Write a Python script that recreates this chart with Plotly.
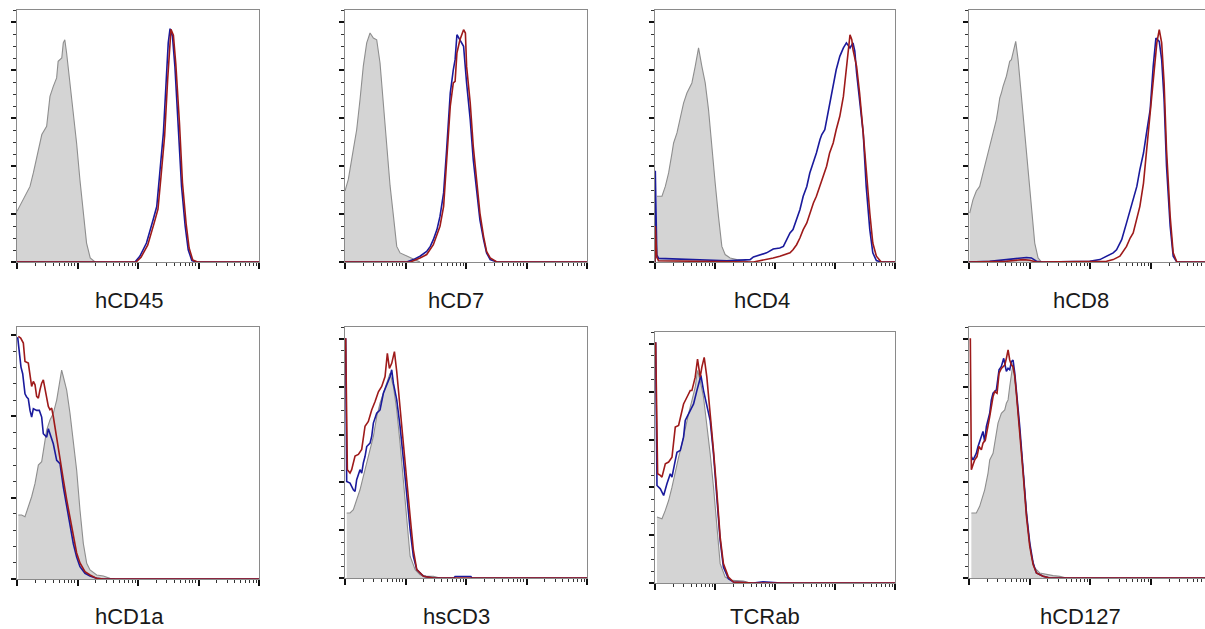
import math
import plotly.graph_objects as go

# ---------------- data (x = decades of fluorescence, y = relative count) ----------------
# hCD45
cd45_iso_x = [0, 0.105, 0.215, 0.27, 0.38, 0.41, 0.49, 0.52, 0.545, 0.60, 0.655, 0.68, 0.74, 0.765, 0.79, 0.82, 0.875, 0.93, 0.985, 1.04, 1.10, 1.15, 1.21, 1.29]
cd45_iso_y = [21.1, 26.0, 31.5, 37.1, 49.6, 53.1, 56.5, 64.9, 69.0, 73.2, 76.7, 83.6, 85.0, 91.3, 92.6, 87.1, 74.6, 62.1, 49.6, 34.3, 20.4, 7.9, 1.7, 0]
cd45_blue_x = [0, 1.95, 2.03, 2.14, 2.25, 2.31, 2.36, 2.42, 2.47, 2.50, 2.53, 2.57, 2.61, 2.67, 2.72, 2.78, 2.83, 2.89, 2.97, 4]
cd45_blue_y = [0, 0, 2.4, 7.9, 17.6, 23.1, 37.1, 53.8, 77.4, 91.3, 97.2, 94.0, 81.5, 56.5, 31.5, 14.9, 5.1, 0.6, 0, 0]
cd45_red_x = [0, 1.97, 2.05, 2.16, 2.27, 2.33, 2.38, 2.44, 2.49, 2.52, 2.545, 2.585, 2.625, 2.685, 2.735, 2.795, 2.845, 2.905, 2.985, 4]
cd45_red_y = [0, 0, 2.0, 7.0, 16.5, 22.0, 35.5, 52.5, 76.0, 90.5, 97.0, 94.5, 82.5, 58.0, 33.0, 16.0, 5.8, 0.8, 0, 0]

# hCD7
cd7_iso_x = [0, 0.055, 0.138, 0.193, 0.248, 0.303, 0.359, 0.414, 0.469, 0.524, 0.579, 0.634, 0.69, 0.745, 0.80, 0.855, 0.91, 1.02, 1.13, 1.24]
cd7_iso_y = [29.6, 34.4, 46.9, 55.1, 67.6, 81.7, 91.3, 95.4, 93.3, 92.6, 82.9, 65.1, 47.1, 31.8, 19.3, 6.5, 3.8, 2.4, 1.25, 0]
cd7_blue_x = [0, 1.02, 1.13, 1.24, 1.35, 1.41, 1.46, 1.52, 1.57, 1.63, 1.68, 1.74, 1.79, 1.82, 1.85, 1.90, 1.96, 2.01, 2.07, 2.12, 2.18, 2.23, 2.29, 2.34, 2.40, 2.51, 4]
cd7_blue_y = [0, 0, 1.0, 2.4, 4.4, 6.5, 9.3, 13.5, 19.0, 28.8, 46.8, 70.4, 80.1, 84.3, 94.7, 92.6, 89.9, 74.6, 59.3, 42.6, 28.8, 17.6, 9.3, 3.8, 1.0, 0, 0]
cd7_red_x = [0, 1.08, 1.24, 1.35, 1.46, 1.57, 1.63, 1.68, 1.74, 1.79, 1.82, 1.85, 1.90, 1.96, 1.99, 2.01, 2.07, 2.12, 2.18, 2.23, 2.29, 2.34, 2.40, 2.51, 4]
cd7_red_y = [0, 0, 1.7, 3.1, 7.2, 14.9, 23.2, 41.3, 64.9, 74.6, 75.3, 87.1, 92.6, 96.8, 95.4, 81.5, 66.2, 48.2, 31.5, 20.4, 10.7, 4.4, 1.7, 0, 0]

# hCD4
cd4_iso_x = [0.033, 0.116, 0.172, 0.227, 0.283, 0.31, 0.366, 0.421, 0.476, 0.532, 0.56, 0.615, 0.67, 0.726, 0.781, 0.837, 0.892, 0.947, 1.003, 1.058, 1.114, 1.169, 1.252, 1.363, 1.474, 1.557]
cd4_iso_y = [27.4, 27.4, 31.5, 37.1, 45.4, 49.6, 53.8, 60.7, 66.2, 70.4, 71.8, 74.6, 81.5, 89.2, 81.5, 74.6, 63.5, 46.8, 32.9, 19.0, 6.5, 3.1, 1.7, 1.0, 0.7, 0]
cd4_blue_x = [0, 0.005, 0.03, 0.06, 1.2, 1.585, 1.64, 1.75, 1.86, 1.97, 2.08, 2.14, 2.19, 2.25, 2.30, 2.36, 2.415, 2.47, 2.53, 2.58, 2.64, 2.69, 2.75, 2.78, 2.83, 2.89, 2.91, 2.97, 3.02, 3.08, 3.14, 3.19, 3.25, 3.30, 3.33, 3.36, 3.41, 3.47, 3.52, 3.58, 3.63, 3.69, 3.77, 4]
cd4_blue_y = [0, 38, 3.0, 1.5, 0.5, 1.0, 2.1, 3.1, 3.8, 5.4, 5.8, 6.5, 9.3, 12.1, 13.5, 17.6, 21.8, 27.4, 31.5, 37.1, 41.3, 45.4, 51.0, 53.1, 55.1, 63.5, 66.2, 73.2, 80.1, 85.7, 89.2, 91.3, 89.2, 91.3, 87.9, 78.8, 67.6, 53.8, 31.5, 13.5, 3.8, 0.6, 0, 0]
cd4_red_x = [0, 0.005, 0.03, 0.06, 1.64, 1.86, 1.97, 2.08, 2.19, 2.25, 2.30, 2.36, 2.415, 2.47, 2.53, 2.58, 2.64, 2.69, 2.75, 2.80, 2.86, 2.91, 2.97, 3.02, 3.08, 3.14, 3.19, 3.25, 3.28, 3.30, 3.36, 3.41, 3.47, 3.52, 3.58, 3.63, 3.69, 3.77, 4]
cd4_red_y = [0, 15, 2.0, 0.5, 0, 1.0, 1.7, 2.4, 3.1, 3.8, 5.1, 7.2, 10.0, 13.5, 16.3, 20.4, 24.6, 27.4, 31.5, 35.7, 39.9, 45.4, 49.6, 55.1, 60.7, 69.0, 81.5, 94.7, 92.6, 88.5, 81.5, 70.4, 53.8, 37.1, 20.4, 7.9, 2.4, 0, 0]

# hCD8
cd8_iso_x = [0.011, 0.066, 0.121, 0.176, 0.231, 0.287, 0.342, 0.369, 0.397, 0.452, 0.479, 0.507, 0.534, 0.562, 0.617, 0.672, 0.70, 0.727, 0.771, 0.81, 0.865, 0.92, 0.975, 1.03, 1.085, 1.14, 1.196]
cd8_iso_y = [20.4, 26.0, 29.6, 31.5, 37.1, 42.6, 48.2, 51.0, 54.4, 59.3, 63.5, 68.3, 70.4, 73.2, 77.4, 83.6, 84.3, 87.1, 91.9, 84.3, 69.0, 53.8, 37.1, 20.4, 7.9, 1.7, 0]
cd8_blue_x = [0, 0.342, 0.617, 0.782, 0.948, 1.03, 1.113, 1.223, 1.72, 1.99, 2.16, 2.27, 2.38, 2.435, 2.52, 2.60, 2.66, 2.71, 2.77, 2.82, 2.88, 2.93, 2.99, 3.04, 3.085, 3.14, 3.18, 3.22, 3.26, 3.32, 3.37, 3.43, 4]
cd8_blue_y = [0, 0.3, 1.0, 1.5, 1.9, 1.7, 0.3, 0, 0, 0.3, 1.0, 2.4, 3.8, 5.1, 9.3, 16.3, 21.8, 26.0, 31.5, 38.5, 45.4, 53.8, 63.5, 81.5, 93.3, 91.9, 84.3, 67.6, 39.9, 15.0, 2.4, 0, 0]
cd8_red_x = [0, 0.617, 0.893, 1.003, 1.113, 2.16, 2.27, 2.38, 2.49, 2.60, 2.66, 2.71, 2.77, 2.82, 2.88, 2.93, 2.99, 3.04, 3.10, 3.14, 3.18, 3.22, 3.26, 3.32, 3.37, 3.43, 4]
cd8_red_y = [0, 0.3, 1.0, 0.7, 0, 0, 0.3, 1.0, 2.4, 6.5, 10.0, 12.1, 17.6, 23.2, 32.9, 46.8, 60.7, 77.4, 91.3, 96.8, 91.3, 74.6, 46.8, 19.0, 3.8, 0, 0]

# hCD1a
cd1a_iso_x = [0.022, 0.077, 0.132, 0.187, 0.242, 0.298, 0.325, 0.353, 0.408, 0.435, 0.49, 0.545, 0.60, 0.656, 0.711, 0.738, 0.766, 0.821, 0.876, 0.931, 0.986, 1.041, 1.096, 1.152, 1.207, 1.317, 1.427, 1.537, 1.62]
cd1a_iso_y = [78.7, 78.7, 76.6, 88.9, 101.2, 117.6, 129.9, 140.2, 144.3, 158.6, 183.2, 195.5, 203.7, 220.1, 248.8, 257.0, 248.8, 232.4, 203.7, 166.8, 134.0, 84.8, 43.9, 19.3, 11.1, 4.9, 3.7, 0.8, 0]
cd1a_blue_x = [0.011, 0.039, 0.066, 0.094, 0.132, 0.16, 0.187, 0.215, 0.242, 0.27, 0.325, 0.369, 0.408, 0.435, 0.463, 0.49, 0.518, 0.545, 0.573, 0.60, 0.656, 0.711, 0.766, 0.821, 0.876, 0.931, 0.986, 1.041, 1.124, 1.207, 1.317, 1.427, 4]
cd1a_blue_y = [297.5, 277.0, 260.7, 252.5, 227.9, 223.8, 221.7, 207.4, 199.2, 209.4, 207.4, 207.4, 199.2, 178.7, 176.6, 174.6, 184.8, 178.7, 170.5, 166.4, 145.9, 141.8, 113.1, 88.5, 63.9, 43.4, 27.0, 15.2, 7.0, 3.7, 0.8, 0, 0]
cd1a_red_x = [0.022, 0.061, 0.105, 0.132, 0.187, 0.215, 0.242, 0.27, 0.298, 0.325, 0.353, 0.38, 0.408, 0.435, 0.463, 0.49, 0.518, 0.545, 0.573, 0.60, 0.656, 0.711, 0.766, 0.821, 0.876, 0.931, 0.986, 1.041, 1.124, 1.207, 1.317, 1.427, 4]
cd1a_red_y = [298.4, 296.3, 290.2, 267.6, 265.6, 253.3, 236.9, 243.0, 238.9, 224.6, 222.5, 232.8, 240.9, 245.0, 232.8, 224.6, 212.3, 208.2, 210.2, 199.9, 175.4, 150.8, 122.1, 97.5, 77.0, 52.5, 32.0, 19.7, 9.0, 4.9, 0.8, 0, 0]

# hsCD3
cd3_iso_x = [0.028, 0.083, 0.138, 0.193, 0.248, 0.303, 0.359, 0.414, 0.469, 0.524, 0.579, 0.634, 0.69, 0.745, 0.80, 0.855, 0.91, 0.966, 1.02, 1.076, 1.16, 1.24, 1.35, 1.46, 1.57]
cd3_iso_y = [27.2, 27.2, 28.6, 32.7, 36.9, 42.5, 48.1, 53.6, 59.2, 67.5, 73.1, 77.3, 81.5, 85.7, 80.1, 70.3, 56.4, 39.7, 23.0, 9.1, 3.5, 1.4, 0.7, 0.7, 0]
cd3_blue_x = [0.011, 0.028, 0.083, 0.138, 0.166, 0.193, 0.248, 0.276, 0.303, 0.331, 0.359, 0.414, 0.441, 0.469, 0.524, 0.579, 0.634, 0.69, 0.745, 0.772, 0.80, 0.855, 0.91, 0.966, 1.02, 1.076, 1.13, 1.186, 1.297, 1.46, 1.80, 1.82, 2.08, 2.10, 4]
cd3_blue_y = [100.3, 40.4, 39.7, 36.9, 36.2, 41.1, 45.3, 43.9, 48.1, 50.8, 55.0, 56.4, 59.2, 64.8, 68.9, 70.3, 77.3, 80.8, 84.3, 87.1, 81.5, 74.5, 63.4, 49.4, 34.1, 20.2, 9.1, 3.5, 0.7, 0, 0, 0.6, 0.6, 0, 0]
cd3_red_x = [0.011, 0.039, 0.083, 0.11, 0.166, 0.221, 0.276, 0.331, 0.386, 0.441, 0.497, 0.552, 0.607, 0.662, 0.70, 0.734, 0.772, 0.817, 0.855, 0.91, 0.966, 1.02, 1.076, 1.13, 1.186, 1.297, 1.46, 4]
cd3_red_y = [100.3, 45.3, 43.9, 45.3, 51.0, 51.7, 53.8, 63.5, 65.5, 70.3, 73.8, 77.9, 80.1, 84.3, 94.0, 87.7, 89.8, 94.7, 86.4, 70.3, 56.4, 41.1, 25.8, 11.8, 3.5, 0.7, 0, 0]

# TCRab
tcr_iso_x = [0.033, 0.116, 0.172, 0.227, 0.283, 0.338, 0.393, 0.449, 0.504, 0.56, 0.615, 0.67, 0.709, 0.753, 0.809, 0.864, 0.92, 0.975, 1.03, 1.086, 1.169, 1.28, 1.474, 1.585]
tcr_iso_y = [27.6, 26.9, 30.4, 34.5, 40.1, 47.1, 52.6, 58.2, 65.2, 70.8, 76.3, 81.9, 88.9, 84.7, 77.7, 66.6, 54.0, 40.1, 23.4, 8.1, 2.5, 1.1, 0.8, 0]
tcr_blue_x = [0.011, 0.033, 0.089, 0.144, 0.199, 0.255, 0.283, 0.31, 0.338, 0.366, 0.421, 0.476, 0.504, 0.532, 0.587, 0.643, 0.698, 0.765, 0.809, 0.864, 0.92, 0.975, 1.03, 1.086, 1.14, 1.224, 1.307, 1.64, 1.80, 2.10, 4]
tcr_blue_y = [100.7, 40.8, 39.4, 36.6, 41.5, 45.7, 44.3, 48.5, 51.3, 54.7, 55.4, 61.0, 68.0, 69.4, 72.1, 74.9, 80.5, 86.8, 80.5, 73.5, 67.9, 54.0, 35.9, 17.8, 6.7, 1.8, 0.4, 0, 0.5, 0, 0]
tcr_red_x = [0.011, 0.044, 0.089, 0.116, 0.172, 0.227, 0.283, 0.338, 0.393, 0.449, 0.476, 0.532, 0.587, 0.615, 0.67, 0.709, 0.753, 0.781, 0.82, 0.864, 0.92, 0.975, 1.03, 1.086, 1.14, 1.224, 1.307, 1.64, 4]
tcr_red_y = [100.7, 45.7, 45.0, 44.3, 49.9, 50.6, 52.6, 65.2, 65.9, 72.1, 74.9, 77.7, 80.5, 80.5, 86.1, 93.7, 86.1, 90.3, 94.4, 86.1, 72.1, 55.4, 38.4, 19.2, 8.1, 2.5, 0.4, 0, 0]

# hCD127
cd127_iso_x = [0.039, 0.121, 0.176, 0.204, 0.259, 0.314, 0.342, 0.397, 0.424, 0.479, 0.534, 0.59, 0.617, 0.645, 0.672, 0.70, 0.727, 0.755, 0.81, 0.865, 0.92, 0.975, 1.03, 1.085, 1.168, 1.278, 1.388, 1.499, 1.609]
cd127_iso_y = [27.2, 27.2, 30.0, 32.7, 36.9, 43.9, 49.4, 52.2, 56.4, 64.8, 68.9, 70.3, 73.1, 74.5, 80.1, 85.7, 89.8, 84.3, 70.3, 53.6, 36.9, 20.2, 9.1, 4.2, 2.1, 1.4, 1.0, 0.7, 0]
cd127_blue_x = [0.039, 0.066, 0.094, 0.121, 0.149, 0.176, 0.204, 0.231, 0.259, 0.287, 0.342, 0.369, 0.397, 0.424, 0.452, 0.496, 0.534, 0.573, 0.617, 0.645, 0.672, 0.70, 0.727, 0.755, 0.782, 0.837, 0.893, 0.948, 1.003, 1.058, 1.113, 1.223, 1.333, 4]
cd127_blue_y = [50.8, 49.4, 50.8, 52.2, 55.0, 57.1, 59.2, 61.3, 57.1, 63.4, 68.9, 74.5, 77.3, 78.0, 78.7, 87.1, 88.5, 91.9, 86.4, 87.7, 87.1, 90.5, 91.2, 85.7, 78.7, 63.4, 45.3, 27.2, 14.6, 6.3, 2.1, 0.7, 0, 0]
cd127_red_x = [0.022, 0.039, 0.066, 0.094, 0.132, 0.165, 0.204, 0.231, 0.27, 0.314, 0.342, 0.397, 0.424, 0.463, 0.496, 0.534, 0.562, 0.59, 0.617, 0.645, 0.672, 0.70, 0.727, 0.755, 0.782, 0.837, 0.893, 0.948, 1.003, 1.058, 1.113, 1.223, 1.333, 4]
cd127_red_y = [100.3, 45.3, 47.4, 49.4, 50.8, 55.0, 53.6, 56.4, 57.8, 64.8, 67.5, 75.9, 78.0, 77.3, 85.7, 87.7, 88.4, 89.1, 91.9, 95.4, 91.2, 89.1, 88.4, 84.3, 77.3, 62.0, 43.9, 25.8, 13.2, 5.6, 2.1, 0.7, 0, 0]

labels = ["hCD45", "hCD7", "hCD4", "hCD8", "hCD1a", "hsCD3", "TCRab", "hCD127"]

# ---------------- layout geometry (pixels) ----------------
W, H = 1205, 629
boxes = [  # left, right, top, bottom
    (17, 259, 10, 262), (345, 587, 10, 262), (655, 895, 10, 262), (969, 1205, 10, 262),
    (17, 259, 327, 579), (345, 587, 327, 578), (655, 895, 332, 583), (969, 1205, 327, 578),
]
xmax = [4, 4, 4, 3.895, 4, 4, 4, 3.895]
ycfg = [(105, 20, 5)] * 4 + [(310, 100, 20), (105, 20, 5), (105, 20, 5), (105, 20, 5)]
label_pos = [(129, 300), (456, 300), (762, 300), (1081, 300),
             (129, 616), (456, 616), (765, 616), (1080, 616)]

series = [
    (cd45_iso_x, cd45_iso_y, cd45_blue_x, cd45_blue_y, cd45_red_x, cd45_red_y),
    (cd7_iso_x, cd7_iso_y, cd7_blue_x, cd7_blue_y, cd7_red_x, cd7_red_y),
    (cd4_iso_x, cd4_iso_y, cd4_blue_x, cd4_blue_y, cd4_red_x, cd4_red_y),
    (cd8_iso_x, cd8_iso_y, cd8_blue_x, cd8_blue_y, cd8_red_x, cd8_red_y),
    (cd1a_iso_x, cd1a_iso_y, cd1a_blue_x, cd1a_blue_y, cd1a_red_x, cd1a_red_y),
    (cd3_iso_x, cd3_iso_y, cd3_blue_x, cd3_blue_y, cd3_red_x, cd3_red_y),
    (tcr_iso_x, tcr_iso_y, tcr_blue_x, tcr_blue_y, tcr_red_x, tcr_red_y),
    (cd127_iso_x, cd127_iso_y, cd127_blue_x, cd127_blue_y, cd127_red_x, cd127_red_y),
]

GRAY_FILL = "#d4d4d4"
GRAY_LINE = "#8e8e8e"
BLUE = "#1a1a9c"
RED = "#9e1a1a"

major_x = [0, 1, 2, 3, 4]
minor_x = [k + math.log10(m) for k in range(4) for m in range(2, 10)]

fig = go.Figure()
layout = dict(
    width=W, height=H, margin=dict(l=0, r=0, t=0, b=0, pad=0),
    paper_bgcolor="white", plot_bgcolor="white", showlegend=False,
    annotations=[],
)

for i, (ix, iy, bx, by, rx, ry) in enumerate(series):
    n = "" if i == 0 else str(i + 1)
    xa, ya = "x" + n, "y" + n
    fig.add_trace(go.Scatter(x=ix, y=iy, mode="lines", fill="tozeroy",
                             fillcolor=GRAY_FILL, line=dict(color=GRAY_LINE, width=1.1),
                             xaxis=xa, yaxis=ya, hoverinfo="skip"))
    fig.add_trace(go.Scatter(x=bx, y=by, mode="lines", line=dict(color=BLUE, width=1.6),
                             xaxis=xa, yaxis=ya, hoverinfo="skip"))
    fig.add_trace(go.Scatter(x=rx, y=ry, mode="lines", line=dict(color=RED, width=1.6),
                             xaxis=xa, yaxis=ya, hoverinfo="skip"))

    l, r, t, b = boxes[i]
    ytop, ydt, ymin = ycfg[i]
    cut = i in (3, 7)
    layout["xaxis" + n] = dict(
        domain=[l / W, r / W], range=[0, xmax[i]], anchor=ya,
        showgrid=False, zeroline=False, showticklabels=False,
        showline=True, linecolor="#8a8a8a", linewidth=1, mirror=True,
        ticks="outside", ticklen=6, tickwidth=2, tickcolor="#111",
        tickmode="array", tickvals=major_x,
        minor=dict(tickmode="array", tickvals=minor_x, ticks="outside",
                   ticklen=3, tickwidth=1, tickcolor="#333"),
        fixedrange=True,
    )
    layout["yaxis" + n] = dict(
        domain=[1 - b / H, 1 - t / H], range=[0, ytop], anchor=xa,
        showgrid=False, zeroline=False, showticklabels=False,
        showline=True, linecolor="#8a8a8a", linewidth=1, mirror=(not cut),
        ticks="outside", ticklen=5, tickwidth=2, tickcolor="#111",
        tickmode="linear", tick0=0, dtick=ydt,
        minor=dict(tickmode="linear", tick0=0, dtick=ymin, ticks="outside",
                   ticklen=3, tickwidth=1, tickcolor="#333"),
        fixedrange=True,
    )
    lx, ly = label_pos[i]
    layout["annotations"].append(dict(
        text=labels[i], xref="paper", yref="paper", x=lx / W, y=1 - ly / H,
        xanchor="center", yanchor="middle", showarrow=False,
        font=dict(family="Liberation Sans, Arial, sans-serif", size=22, color="#1a1a1a"),
    ))

fig.update_layout(**layout)
fig.write_html(
    "out.html",
    config={"displayModeBar": False},
    post_script="document.body.style.margin='0px';document.body.style.padding='0px';"
                "document.documentElement.style.overflow='hidden';",
)
